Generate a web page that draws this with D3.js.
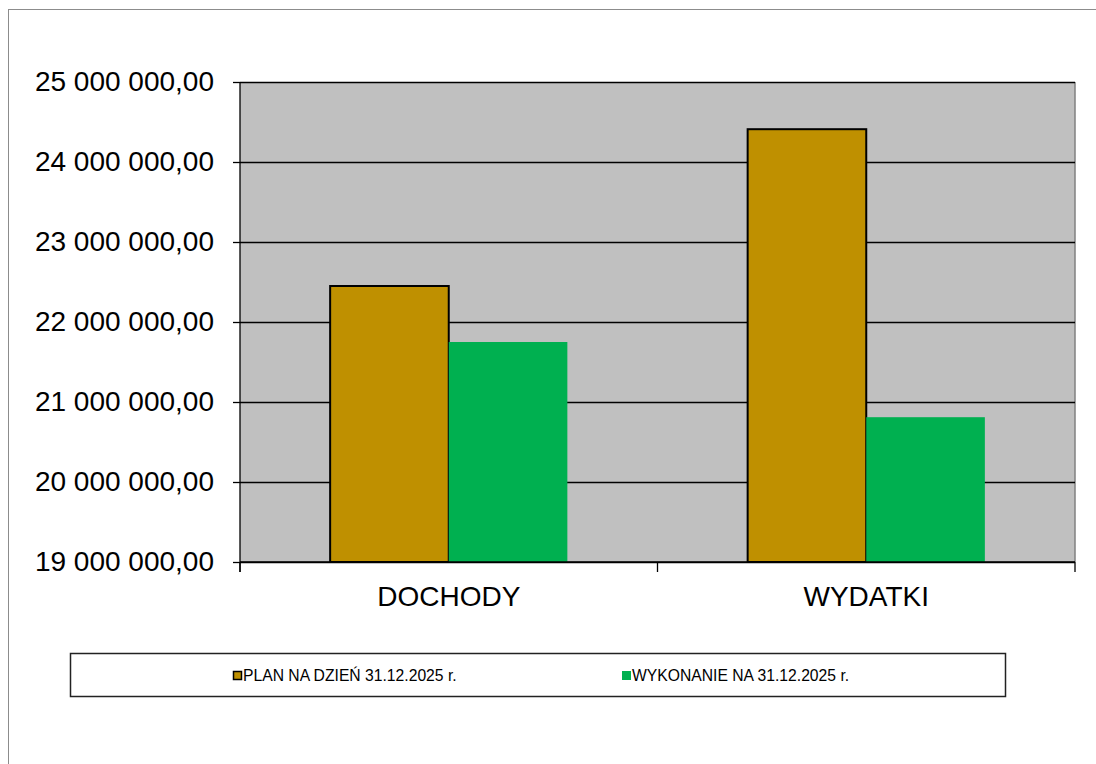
<!DOCTYPE html>
<html>
<head>
<meta charset="utf-8">
<script src="https://cdn.jsdelivr.net/npm/d3@7"></script>
<style>
  body { margin: 0; background: #fff; }
  text { font-family: "Liberation Sans", Arial, sans-serif; }
</style>
</head>
<body>
<div id="chart"></div>
<script>
var width = 1096;
var height = 764;

var categories = ["DOCHODY", "WYDATKI"];
var seriesNames = ["PLAN NA DZIEŃ 31.12.2025 r.", "WYKONANIE NA 31.12.2025 r."];
var planValues = [22450000, 24410000];
var wykonanieValues = [21750000, 20810000];
var yTicks = [19000000, 20000000, 21000000, 22000000, 23000000, 24000000, 25000000];
var colors = ["#BF9000", "#00B050"];

var plot = {left: 240, right: 1075, top: 82, bottom: 562};

var svg = d3.select('#chart')
  .append('svg')
  .attr('width', width)
  .attr('height', height);

// ramka wykresu
svg.append('rect')
  .attr('x', 8.5).attr('y', 9.5)
  .attr('width', width + 20).attr('height', height + 20)
  .attr('fill', '#fff')
  .attr('stroke', '#8c8c8c')
  .attr('stroke-width', 1);

var x0 = d3.scaleBand()
  .domain(categories)
  .range([plot.left, plot.right]);

var x1 = d3.scaleBand()
  .domain([0, 1])
  .range([0, x0.bandwidth()])
  .paddingOuter(0.76)
  .paddingInner(0);

var y = d3.scaleLinear()
  .domain([19000000, 25000000])
  .range([plot.bottom, plot.top]);

// tlo obszaru
svg.append('rect')
  .attr('x', plot.left).attr('y', plot.top)
  .attr('width', plot.right - plot.left)
  .attr('height', plot.bottom - plot.top)
  .attr('fill', '#C0C0C0');

svg.append('line')
  .attr('x1', plot.right).attr('x2', plot.right)
  .attr('y1', plot.top).attr('y2', plot.bottom)
  .attr('stroke', '#808080').attr('stroke-width', 1.5);

// linie siatki
svg.append('g')
  .selectAll('line')
  .data(yTicks)
  .enter()
  .append('line')
  .attr('x1', plot.left).attr('x2', plot.right)
  .attr('y1', function(d){ return Math.round(y(d)) + 0.5; })
  .attr('y2', function(d){ return Math.round(y(d)) + 0.5; })
  .attr('stroke', '#000')
  .attr('stroke-width', 1.3);

var fmt = function(d) {
  return d3.format(',.2f')(d).replace(/,/g, ' ').replace('.', ',');
};

var yAxis = d3.axisLeft(y)
  .tickValues(yTicks)
  .tickSize(7)
  .tickPadding(19)
  .tickFormat(fmt);

var gy = svg.append('g')
  .attr('transform', 'translate(' + plot.left + ',0)')
  .call(yAxis);
gy.select('.domain').remove();
gy.selectAll('.tick line').attr('stroke', '#000').attr('stroke-width', 1.3);
gy.selectAll('.tick text')
  .attr('fill', '#000')
  .style('font-size', '28px')
  .style('font-family', '"Liberation Sans", Arial, sans-serif');

// slupki
var groups = svg.append('g')
  .selectAll('g')
  .data(categories)
  .enter()
  .append('g')
  .attr('transform', function(d){ return 'translate(' + x0(d) + ',0)'; });

groups.append('rect')
  .attr('x', x1(0))
  .attr('y', function(d, i){ return y(planValues[i]); })
  .attr('width', x1.bandwidth())
  .attr('height', function(d, i){ return plot.bottom - y(planValues[i]); })
  .attr('fill', colors[0])
  .attr('stroke', '#000')
  .attr('stroke-width', 2);

groups.append('rect')
  .attr('x', x1(1))
  .attr('y', function(d, i){ return y(wykonanieValues[i]); })
  .attr('width', x1.bandwidth())
  .attr('height', function(d, i){ return plot.bottom - y(wykonanieValues[i]); })
  .attr('fill', colors[1]);

// os x
svg.append('line')
  .attr('x1', plot.left).attr('x2', plot.right)
  .attr('y1', plot.bottom).attr('y2', plot.bottom)
  .attr('stroke', '#000').attr('stroke-width', 1.3);
svg.append('line')
  .attr('x1', plot.left).attr('x2', plot.left)
  .attr('y1', plot.top).attr('y2', plot.bottom + 10)
  .attr('stroke', '#000').attr('stroke-width', 1.3);

var sepTicks = categories.map(function(d){ return x0(d); }).concat([plot.right]);
svg.append('g')
  .selectAll('line')
  .data(sepTicks)
  .enter()
  .append('line')
  .attr('x1', function(d){ return d; }).attr('x2', function(d){ return d; })
  .attr('y1', plot.bottom).attr('y2', plot.bottom + 10)
  .attr('stroke', '#000').attr('stroke-width', 1.3);

svg.append('g')
  .selectAll('text')
  .data(categories)
  .enter()
  .append('text')
  .attr('x', function(d){ return x0(d) + x0.bandwidth() / 2; })
  .attr('y', 606)
  .attr('text-anchor', 'middle')
  .style('font-size', '28px')
  .text(function(d){ return d; });

// legenda
svg.append('rect')
  .attr('x', 70.5).attr('y', 653.5)
  .attr('width', 935).attr('height', 43)
  .attr('fill', '#fff')
  .attr('stroke', '#222').attr('stroke-width', 1.5);

var legendX = [233, 622];
var legend = svg.append('g')
  .selectAll('g')
  .data(seriesNames)
  .enter()
  .append('g')
  .attr('transform', function(d, i){ return 'translate(' + legendX[i] + ',671)'; });

legend.append('rect')
  .attr('x', function(d, i){ return i === 0 ? 0.5 : 0; })
  .attr('y', function(d, i){ return i === 0 ? 0.5 : 0; })
  .attr('width', function(d, i){ return i === 0 ? 8 : 9; })
  .attr('height', function(d, i){ return i === 0 ? 8 : 9; })
  .attr('fill', function(d, i){ return colors[i]; })
  .attr('stroke', function(d, i){ return i === 0 ? '#000' : 'none'; })
  .attr('stroke-width', 1.5);

legend.append('text')
  .attr('x', 10)
  .attr('y', 10)
  .style('font-size', '15.7px')
  .text(function(d){ return d; });
</script>
</body>
</html>
